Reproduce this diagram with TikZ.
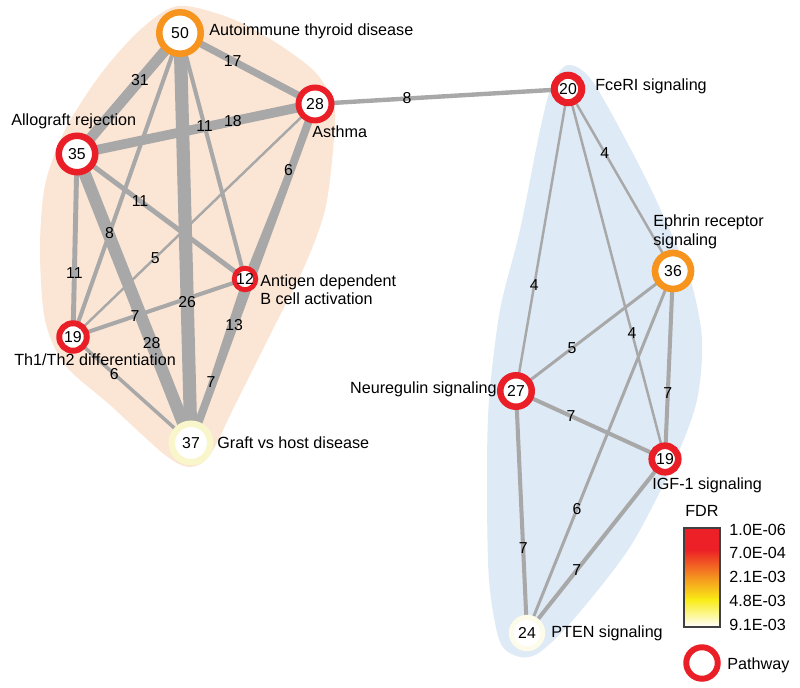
\documentclass[tikz,border=0pt]{standalone}
\usepackage{fontspec}
\setmainfont{Liberation Sans}
\usetikzlibrary{positioning}
\definecolor{ringred}{RGB}{234,30,38}
\definecolor{ringorange}{RGB}{247,148,30}
\definecolor{ringpale}{RGB}{249,246,204}
\definecolor{ringwhite}{RGB}{253,251,234}
\definecolor{linkgrey}{RGB}{168,168,168}
\definecolor{peach}{RGB}{251,229,213}
\definecolor{skyblue}{RGB}{222,234,246}
\definecolor{fdrred}{RGB}{236,32,38}
\definecolor{fdrorange}{RGB}{245,145,32}
\definecolor{fdryellow}{RGB}{249,236,22}
\pgfdeclarelayer{blobs}
\pgfdeclarelayer{edges}
\pgfsetlayers{blobs,edges,main}
\tikzset{
	pathway/.style n args={3}{circle,inner sep=0pt,fill=white,draw=#1,line width=#2,minimum size=#3,font=\fontsize{9}{10}\selectfont},
	link/.style={draw=linkgrey,line width=#1},
	wlabel/.style={inner sep=0pt,font=\fontsize{9}{10}\selectfont},
	plabel/.style={inner sep=0pt,align=left,font=\fontsize{9.2}{10.5}\selectfont}
}

\begin{document}
\begin{tikzpicture}[x=0.02cm,y=-0.02cm]
	\useasboundingbox (0,0) rectangle (800,688);
	% clusters
	\begin{pgfonlayer}{blobs}
		\fill[peach] plot[smooth cycle] coordinates {(178,6) (230,18) (275,42) (315,72) (334,105) (333,150) (325,210) (305,265) (270,335) (235,405) (210,455) (190,467) (165,455) (110,405) (65,365) (45,320) (40,250) (45,185) (65,130) (100,75) (140,30)};
		\fill[skyblue] plot[smooth cycle] coordinates {(568,65) (593,82) (640,167) (673,237) (692,285) (702,340) (697,400) (675,460) (630,547) (573,620) (540,652) (520,657) (500,642) (489,580) (487,480) (489,400) (500,310) (520,230) (540,130) (552,85)};
	\end{pgfonlayer}

	% pathways
	\node[pathway={ringorange}{3.7pt}{0.83cm}] (ait) at (180,33) {50};
	\node[pathway={ringred}{3.4pt}{0.66cm}] (asthma) at (315,104) {28};
	\node[pathway={ringred}{3.7pt}{0.73cm}] (allo) at (77,154) {35};
	\node[pathway={ringred}{2.8pt}{0.43cm}] (abc) at (245,279) {12};
	\node[pathway={ringred}{3.4pt}{0.55cm}] (th) at (73,337) {19};
	\node[pathway={ringpale}{3.7pt}{0.77cm}] (gvh) at (191,443) {37};
	\node[pathway={ringred}{4pt}{0.55cm}] (fce) at (568,89) {20};
	\node[pathway={ringorange}{3.8pt}{0.72cm}] (eph) at (673,271) {36};
	\node[pathway={ringred}{3.7pt}{0.63cm}] (nrg) at (516,391) {27};
	\node[pathway={ringred}{3.8pt}{0.53cm}] (igf) at (665,459) {19};
	\node[pathway={ringwhite}{2.8pt}{0.63cm}] (pten) at (527,633) {24};

	\node[plabel,anchor=west] (ait-l) at (209,31) {Autoimmune thyroid disease};
	\node[plabel,anchor=west] (allo-l) at (11,121) {Allograft rejection};
	\node[plabel,anchor=west] (asthma-l) at (312,132) {Asthma};
	\node[plabel,anchor=west] (abc-l) at (260,290) {Antigen dependent\\B cell activation};
	\node[plabel,anchor=west] (th-l) at (14,360) {Th1/Th2 differentiation};
	\node[plabel,anchor=west] (gvh-l) at (217,443) {Graft vs host disease};
	\node[plabel,anchor=west] (fce-l) at (595,86) {FceRI signaling};
	\node[plabel,anchor=west] (eph-l) at (653,232) {Ephrin receptor\\signaling};
	\node[plabel,anchor=east] (nrg-l) at (497,389) {Neuregulin signaling};
	\node[plabel,anchor=west] (igf-l) at (652,485) {IGF-1 signaling};
	\node[plabel,anchor=west] (pten-l) at (551,633) {PTEN signaling};

	% shared genes
	\foreach \a/\b/\w/\p/\t in {ait/allo/6pt/.39/31, ait/asthma/4pt/.39/17, ait/gvh/7.5pt/.656/26,
		ait/abc/2.3pt/.378/11, ait/th/2.3pt/.658/8, allo/asthma/5.5pt/.655/18, allo/abc/2.8pt/.375/11,
		allo/th/2.8pt/.65/11, allo/gvh/7pt/.654/28, asthma/abc/1.7pt/.377/6, asthma/gvh/4.5pt/.652/13,
		abc/gvh/2.3pt/.63/7, asthma/th/1.4pt/.66/5, abc/th/2.3pt/.64/7, th/gvh/2pt/.35/6,
		asthma/fce/2.5pt/.364/8, fce/nrg/1.4pt/.65/4, fce/eph/1.4pt/.35/4, fce/igf/1.4pt/.66/4,
		eph/nrg/1.7pt/.643/5, eph/pten/1.7pt/.657/6, eph/igf/2.3pt/.65/7, nrg/igf/2.3pt/.37/7,
		nrg/pten/2.3pt/.65/7, igf/pten/2.3pt/.64/7}{
		\begin{pgfonlayer}{edges}
			\draw[link=\w] (\a.center) -- (\b.center);
		\end{pgfonlayer}
		\path (\a.center) -- node[wlabel,pos=\p] (w-\a-\b) {\t} (\b.center);
	}

	% legend
	\node[plabel,anchor=west] (fdr-l) at (685,511) {FDR};
	\fill[fdrred] (684,528) rectangle (720,550);
	\shade[top color=fdrred,bottom color=fdrorange] (684,549.5) rectangle (720,577);
	\shade[top color=fdrorange,bottom color=fdryellow] (684,576.5) rectangle (720,600);
	\shade[top color=fdryellow,bottom color=white] (684,599.5) rectangle (720,627);
	\draw[line width=0.6pt,draw=black!75] (684,528) rectangle (720,627);
	\node[plabel,anchor=west] (t1) at (729,530) {1.0E-06};
	\node[plabel,anchor=west] (t2) at (729,553) {7.0E-04};
	\node[plabel,anchor=west] (t3) at (729,577) {2.1E-03};
	\node[plabel,anchor=west] (t4) at (729,601) {4.8E-03};
	\node[plabel,anchor=west] (t5) at (729,625) {9.1E-03};
	\node[pathway={ringred}{3.4pt}{0.63cm}] (legring) at (702,663) {};
	\node[plabel,anchor=west] (leg-l) at (727,665) {Pathway};
\end{tikzpicture}
\end{document}
